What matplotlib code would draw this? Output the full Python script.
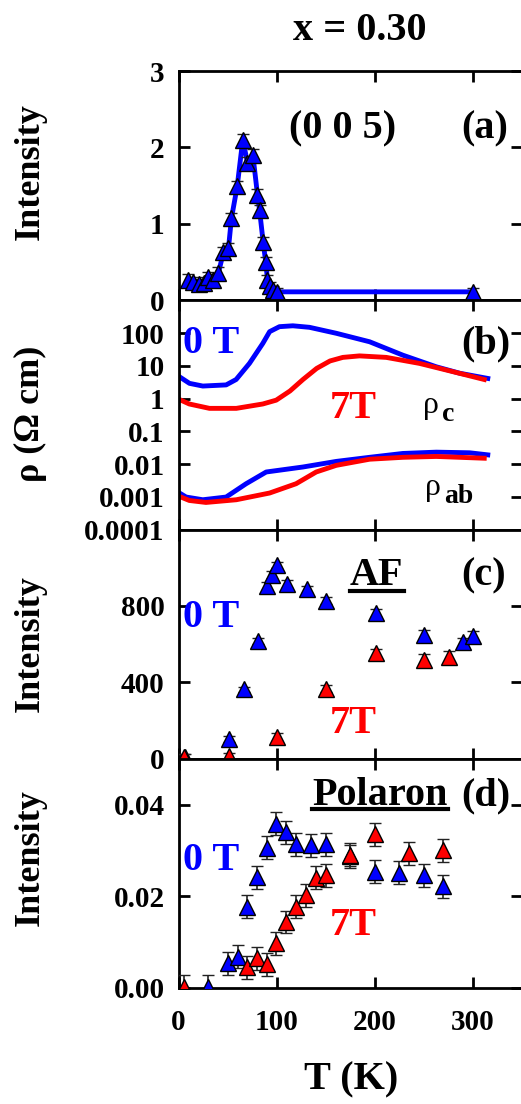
import numpy as np
import matplotlib
matplotlib.use("Agg")
import matplotlib.pyplot as plt
from matplotlib.lines import Line2D
from matplotlib.ticker import NullLocator

plt.rcParams['font.family'] = ['Liberation Serif', 'DejaVu Serif']
plt.rcParams['font.weight'] = 'bold'

BLUE = '#0000ff'
RED = '#ff0000'

# (a) (0 0 5) peak intensity
t_005 = [9.5, 15.3, 20.7, 25.9, 30.6, 35.0, 40.8, 45.9, 51.0, 54.0, 59.9, 65.6,
         70.4, 75.9, 80.6, 82.7, 86.4, 89.0, 90.8, 92.9, 96.3, 100.3, 300.3]
i_005 = [0.27, 0.24, 0.21, 0.23, 0.30, 0.27, 0.36, 0.63, 0.68, 1.07, 1.49, 2.10,
         1.80, 1.90, 1.38, 1.18, 0.76, 0.50, 0.27, 0.18, 0.14, 0.11, 0.11]
e_005 = [0.07, 0.07, 0.07, 0.07, 0.07, 0.07, 0.07, 0.07, 0.07, 0.07, 0.07, 0.08,
         0.08, 0.08, 0.07, 0.07, 0.07, 0.07, 0.06, 0.06, 0.05, 0.05, 0.05]

# (b) resistivity
t_rc0 = [1, 11.2, 24.8, 48.6, 58.8, 72.4, 86, 93, 103, 116.7, 133.7, 161, 195, 229, 263, 287, 315.6]
rc0 = [4.6, 2.9, 2.4, 2.6, 3.8, 11.8, 48, 110, 156, 166, 149, 98, 54, 21, 9.3, 5.9, 4.1]
t_rc7 = [1, 11, 31.6, 59, 86, 99.7, 113.8, 127, 141, 154.6, 167.7, 184.7, 212, 245.9, 280, 312]
rc7 = [0.93, 0.68, 0.50, 0.50, 0.68, 0.89, 1.7, 3.8, 8.3, 14, 18, 20, 18, 11.8, 6.6, 3.8]
t_rab0 = [1, 7.8, 24.8, 48.6, 69, 89.5, 127, 161, 195, 229, 263, 297, 315.6]
rab0 = [0.0013, 0.00098, 0.00081, 0.00098, 0.0025, 0.0057, 0.0081, 0.012, 0.016,
        0.021, 0.023, 0.022, 0.019]
t_rab7 = [1, 11, 28, 59, 93, 120, 140.5, 161, 195, 229, 263, 312]
rab7 = [0.00102, 0.00077, 0.00067, 0.00081, 0.0013, 0.0025, 0.0057, 0.0091, 0.014,
        0.016, 0.017, 0.015]

# (c) AF intensity
t_af0 = [7.1, 51.4, 67.3, 81, 90.5, 95.6, 100.7, 110.5, 130.9, 150.7, 201.7, 251, 290, 300.3]
af0 = [10, 104, 363, 617, 904, 963, 1012, 914, 886, 828, 763, 649, 609, 640]
e_af0 = [15, 15, 15, 15, 20, 20, 20, 20, 20, 20, 20, 25, 25, 30]
t_af7 = [6.1, 51.4, 100.3, 150, 201.7, 251, 276.5]
af7 = [10, 14, 114, 367, 551, 516, 533]
e_af7 = [15, 15, 20, 20, 25, 30, 30]

# (d) polaron intensity
t_p0 = [30, 50.3, 60.5, 70, 79.9, 90.1, 99.7, 109.9, 120.1, 135.4, 150.7,
        175.2, 200.7, 225.5, 251, 270.4]
p0 = [0.0003, 0.0054, 0.0068, 0.0177, 0.0242, 0.0306, 0.0358, 0.0340, 0.0313,
      0.0311, 0.0313, 0.0287, 0.0254, 0.0251, 0.0246, 0.0222]
t_p7 = [6.1, 70, 79.9, 90.1, 99.7, 109.9, 120.1, 130.3, 140.5, 150.7, 175.2,
        200.7, 235.7, 270.4]
p7 = [0.0003, 0.0045, 0.0065, 0.0052, 0.0098, 0.0144, 0.0177, 0.0202, 0.0240,
      0.0246, 0.0291, 0.0335, 0.0294, 0.0300]
err_p = 0.0025

W, H = 521, 1104
fig = plt.figure(figsize=(W / 100, H / 100), dpi=100)

top, bot = 71, 988
ph = (bot - top) / 4
axes = []
for k in range(4):
    yb = top + ph * (k + 1)
    ax = fig.add_axes([178.5 / W, 1 - yb / H, 343 / W, ph / H])
    axes.append(ax)


def style(ax):
    ax.set_xlim(0, 350)
    ax.set_xticks([0, 100, 200, 300])
    ax.tick_params(direction='in', top=True, right=True, length=8, width=2,
                   labelsize=21, pad=10)
    ax.tick_params(axis='x', pad=15)
    for s in ax.spines.values():
        s.set_linewidth(2)


def ptxt(x, y, s, **kw):
    fig.text(x / W, 1 - y / H, s, **kw)


def uline(x0, x1, y):
    fig.add_artist(Line2D([x0 / W, x1 / W], [1 - y / H, 1 - y / H],
                          transform=fig.transFigure, color='k', lw=3))


mk = dict(fmt='^', ms=11, mec='k', mew=1, ecolor='#222222', elinewidth=1.2,
          capsize=4, capthick=1.2)

# (a)
ax = axes[0]
style(ax)
ax.plot(t_005, i_005, color=BLUE, lw=3.5, zorder=2)
ax.errorbar(t_005, i_005, yerr=e_005, mfc=BLUE, zorder=3, **mk)
ax.set_ylim(0, 3)
ax.set_yticks([0, 1, 2, 3])
ax.set_xticklabels([])

# (b)
ax = axes[1]
style(ax)
ax.set_yscale('log')
ax.plot(t_rc0, rc0, color=BLUE, lw=3.5)
ax.plot(t_rc7, rc7, color=RED, lw=3.5)
ax.plot(t_rab0, rab0, color=BLUE, lw=3.5)
ax.plot(t_rab7, rab7, color=RED, lw=3.5)
ax.set_ylim(1e-4, 1e3)
ax.set_yticks([1e-4, 1e-3, 1e-2, 1e-1, 1, 10, 100])
ax.set_yticklabels(['0.0001', '0.001', '0.01', '0.1', '1', '10', '100'])
ax.yaxis.set_minor_locator(NullLocator())
ax.set_xticklabels([])

# (c)
ax = axes[2]
style(ax)
ax.errorbar(t_af0, af0, yerr=e_af0, mfc=BLUE, zorder=3, **mk)
ax.errorbar(t_af7, af7, yerr=e_af7, mfc=RED, zorder=4, **mk)
ax.set_ylim(0, 1200)
ax.set_yticks([0, 400, 800])
ax.set_xticklabels([])

# (d)
ax = axes[3]
style(ax)
ax.errorbar(t_p0, p0, yerr=err_p, mfc=BLUE, zorder=3, **mk)
ax.errorbar(t_p7, p7, yerr=err_p, mfc=RED, zorder=4, **mk)
ax.set_ylim(0, 0.05)
ax.set_yticks([0, 0.02, 0.04])
ax.set_yticklabels(['0.00', '0.02', '0.04'])

# labels
big = 29
ptxt(360, 30, 'x = 0.30', fontsize=big, ha='center', va='center')
ptxt(351, 1080, 'T (K)', fontsize=big, ha='center', va='center')
for yc, s in [(172, 'Intensity'), (414, 'ρ (Ω cm)'), (644, 'Intensity'), (858, 'Intensity')]:
    ptxt(30, yc, s, fontsize=26, rotation=90, ha='center', va='center')

ptxt(289, 138, '(0 0 5)', fontsize=big, ha='left', va='baseline')
ptxt(461, 138, '(a)', fontsize=big, ha='left', va='baseline')

ptxt(183, 353, '0 T', fontsize=big, color=BLUE, ha='left', va='baseline')
ptxt(461, 353, '(b)', fontsize=big, ha='left', va='baseline')
ptxt(330, 418, '7T', fontsize=big, color=RED, ha='left', va='baseline')
ptxt(423, 413, 'ρ', fontsize=23, fontweight='normal', ha='left', va='baseline')
ptxt(442, 421, 'c', fontsize=20, ha='left', va='baseline')
ptxt(425, 495, 'ρ', fontsize=23, fontweight='normal', ha='left', va='baseline')
ptxt(444, 503, 'ab', fontsize=20, ha='left', va='baseline')

ptxt(350, 585, 'AF', fontsize=big, ha='left', va='baseline')
uline(350, 404, 591)
ptxt(461, 585, '(c)', fontsize=big, ha='left', va='baseline')
ptxt(183, 627, '0 T', fontsize=big, color=BLUE, ha='left', va='baseline')
ptxt(330, 733, '7T', fontsize=big, color=RED, ha='left', va='baseline')

ptxt(312, 805, 'Polaron', fontsize=big, ha='left', va='baseline')
uline(312, 448, 809)
ptxt(461, 805, '(d)', fontsize=big, ha='left', va='baseline')
ptxt(183, 870, '0 T', fontsize=big, color=BLUE, ha='left', va='baseline')
ptxt(330, 935, '7T', fontsize=big, color=RED, ha='left', va='baseline')

fig.savefig('out.png', dpi=100)
